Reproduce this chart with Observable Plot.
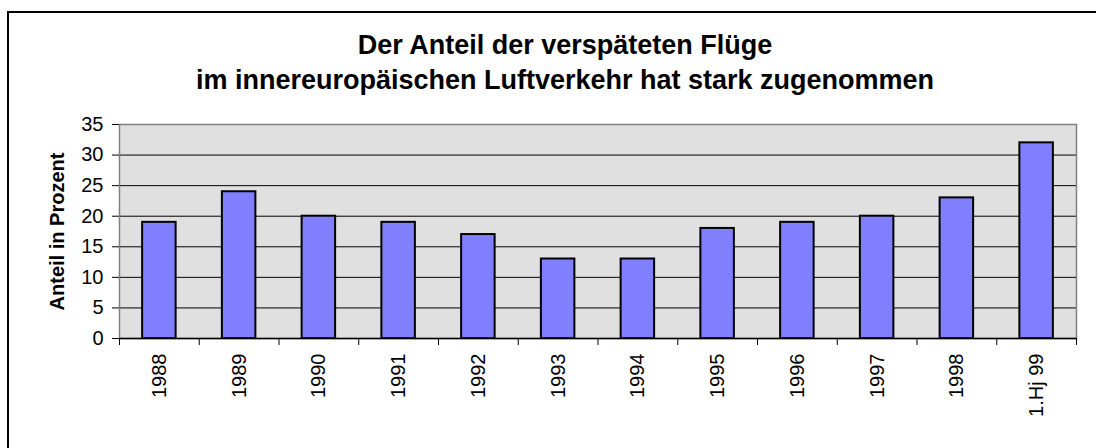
<!DOCTYPE html>
<html><head><meta charset="utf-8">
<script src="https://cdn.jsdelivr.net/npm/d3@7"></script>
<script src="https://cdn.jsdelivr.net/npm/@observablehq/plot@0.6"></script>
<style>
body{margin:0;background:#fff;}
#wrap{position:relative;width:1096px;height:448px;overflow:hidden;font-family:"Liberation Sans",Arial,sans-serif;}
#box{position:absolute;left:7px;top:11px;width:2000px;height:2000px;border-top:2px solid #000;border-left:2px solid #000;}
#chart{position:absolute;left:0;top:0;}
#title{position:absolute;left:565px;top:28px;transform:translateX(-50%);white-space:nowrap;text-align:center;font-weight:bold;font-size:27px;line-height:35px;color:#000;}
</style></head>
<body>
<div id="wrap"><div id="box"></div><div id="chart"></div>
<div id="title">Der Anteil der verspäteten Flüge<br>im innereuropäischen Luftverkehr hat stark zugenommen</div></div>
<script>
const categories = ["1988","1989","1990","1991","1992","1993","1994","1995","1996","1997","1998","1.Hj 99"];
const values = [19,24,20,19,17,13,13,18,19,20,23,32];
const yTicks = [0,5,10,15,20,25,30,35];
const gridLines = [5,10,15,20,25,30];
const yLabel = "Anteil in Prozent";

const n = categories.length;
const barWidth = 0.42;
const data = categories.map((c, i) => ({i, c, v: values[i]}));

const chart = Plot.plot({
  width: 1096, height: 448,
  marginLeft: 119, marginRight: 20, marginTop: 124, marginBottom: 110,
  style: {fontFamily: "'Liberation Sans', Arial, sans-serif", fontSize: "20px", background: "transparent", color: "#000"},
  x: {domain: [0, n]},
  y: {domain: [0, 35]},
  marks: [
    Plot.frame({fill: "#e0e0e0"}),
    Plot.ruleY(gridLines, {stroke: "#000", strokeWidth: 1}),
    Plot.rectY(data, {x1: d => d.i + (1 - barWidth) / 2, x2: d => d.i + (1 + barWidth) / 2, y1: 0, y2: "v", fill: "#8080ff", stroke: "#000", strokeWidth: 2}),
    Plot.frame({stroke: "#808080", strokeWidth: 1.5}),
    Plot.ruleY([0], {stroke: "#000", strokeWidth: 1.5}),
    Plot.axisY(yTicks, {tickSize: 7, tickPadding: 9, fontSize: 20, stroke: "#000", label: null}),
    Plot.axisX(d3.range(n + 1), {tickSize: 7, tickFormat: () => "", stroke: "#000", label: null}),
    Plot.axisX(d3.range(n).map(i => i + 0.5), {tickSize: 0, tickPadding: 15, tickRotate: -90, tickFormat: d => categories[Math.floor(d)], fontSize: 20, label: null}),
    Plot.text([yLabel], {text: d => d, frameAnchor: "left", textAnchor: "middle", rotate: -90, dx: -62, fontWeight: "bold", fontSize: 20})
  ]
});
document.getElementById("chart").appendChild(chart);
</script>
</body></html>
